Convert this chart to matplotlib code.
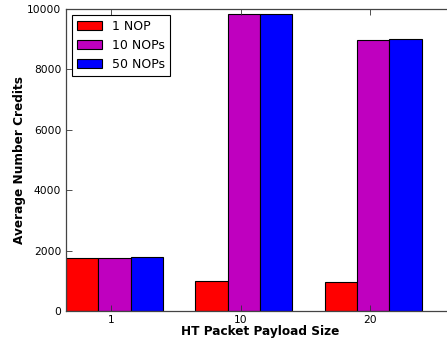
import numpy as np
import matplotlib
matplotlib.use('Agg')
import matplotlib.pyplot as plt

payload_sizes = ['1', '10', '20']
nop_labels = ['1 NOP', '10 NOPs', '50 NOPs']
credits_1_nop = [1745, 990, 950]
credits_10_nops = [1745, 9825, 8990]
credits_50_nops = [1778, 9825, 9000]
bar_colors = ['red', '#bf00bf', 'blue']

fig = plt.figure(figsize=(4.47, 3.39), dpi=100)
ax = fig.add_axes([66 / 447, 28 / 339, 388 / 447, 302 / 339])

ind = np.arange(len(payload_sizes))
width = 0.25
series = [credits_1_nop, credits_10_nops, credits_50_nops]
for i, (vals, label, color) in enumerate(zip(series, nop_labels, bar_colors)):
    ax.bar(ind + i * width, vals, width, align='edge', color=color,
           edgecolor='black', linewidth=0.8, label=label)

ax.set_xlim(0, 3)
ax.set_ylim(0, 10000)
ax.set_xticks(ind + 0.35)
ax.set_xticklabels(payload_sizes)
ax.set_yticks(np.arange(0, 10001, 2000))
ax.tick_params(direction='in', top=True, right=True, labelsize=7.7,
               length=4, width=0.6, colors='#333333', labelcolor='black')
ax.tick_params(axis='x', pad=3)
for sp in ax.spines.values():
    sp.set_linewidth(0.9)
    sp.set_color('#444444')

# label positions in axes coordinates (axes spans 388 x 302 px)
ax.set_xlabel('HT Packet Payload Size', fontsize=8.7, fontweight='bold',
              va='center')
ax.set_ylabel('Average Number Credits', fontsize=8.7, fontweight='bold',
              va='center')
ax.xaxis.set_label_coords((260.5 - 66) / 388, -21 / 302)
ax.yaxis.set_label_coords(-46 / 388, 0.5)

leg = ax.legend(loc='upper left', fontsize=9, fancybox=False,
                framealpha=1, edgecolor='black', borderaxespad=0.45)
leg.get_frame().set_linewidth(0.8)

fig.savefig('out.png', dpi=100)
